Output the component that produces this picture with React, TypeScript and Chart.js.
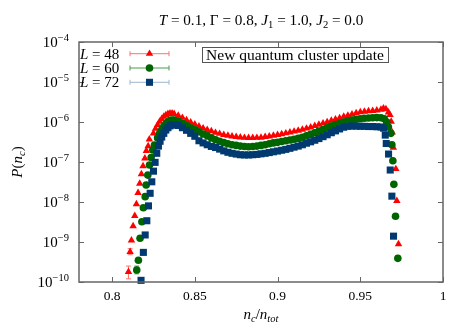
import React, { useEffect, useRef } from "react";
import { Chart, registerables } from "chart.js";
Chart.register(...registerables);

// ---- data ----
const xL48 = [0.8099, 0.8109, 0.8117, 0.8127, 0.8137, 0.8147, 0.8157, 0.8167, 0.8177, 0.8187, 0.8198, 0.8207, 0.8218, 0.8225,
  0.825, 0.82625, 0.8275, 0.82875, 0.83, 0.83125, 0.8325, 0.83375, 0.835, 0.83625, 0.8375, 0.84, 0.8425, 0.845, 0.8475, 0.85, 0.8525, 0.855, 0.8575, 0.86, 0.8625, 0.865, 0.8675,
  0.87, 0.8725, 0.875, 0.8775, 0.88, 0.8825, 0.885, 0.8875, 0.89, 0.8925, 0.895, 0.8975, 0.9, 0.9025, 0.905, 0.9075, 0.91, 0.9125,
  0.915, 0.9175, 0.92, 0.9225, 0.925, 0.9275, 0.93, 0.9325, 0.935, 0.9375, 0.94, 0.9425, 0.945, 0.9475, 0.95, 0.9525, 0.955, 0.9575,
  0.96, 0.9625, 0.964, 0.9655, 0.967, 0.968,
  0.9687, 0.9693, 0.97, 0.9715, 0.9721, 0.9731];
const yL48 = [1.8e-10, 5.7e-10, 1.1e-9, 2.5e-9, 4.5e-9, 8.9e-9, 1.7e-8, 2.9e-8, 5.0e-8, 7.9e-8, 1.24e-7, 1.9e-7, 2.5e-7, 3.7e-7,
  5.2e-7, 6.8e-7, 8.5e-7, 1.03e-6, 1.2e-6, 1.36e-6, 1.5e-6, 1.6e-6, 1.65e-6, 1.64e-6, 1.6e-6, 1.45e-6, 1.28e-6, 1.12e-6, 9.8e-7, 8.7e-7, 7.8e-7, 7.0e-7, 6.4e-7, 5.9e-7, 5.4e-7, 5.1e-7, 4.8e-7,
  4.6e-7, 4.4e-7, 4.25e-7, 4.15e-7, 4.05e-7, 4.0e-7, 4.0e-7, 4.05e-7, 4.1e-7, 4.25e-7, 4.4e-7, 4.6e-7, 4.8e-7, 5.0e-7, 5.25e-7, 5.5e-7, 5.8e-7, 6.1e-7,
  6.5e-7, 6.9e-7, 7.4e-7, 8.0e-7, 8.6e-7, 9.3e-7, 1.0e-6, 1.08e-6, 1.17e-6, 1.26e-6, 1.36e-6, 1.46e-6, 1.56e-6, 1.68e-6, 1.77e-6, 1.83e-6, 1.87e-6, 1.91e-6,
  1.96e-6, 2.05e-6, 2.2e-6, 2.1e-6, 1.75e-6, 1.5e-6,
  1.02e-6, 5.5e-7, 2.3e-7, 6.7e-8, 1.07e-8, 8.9e-10];

const xL60 = [0.8149, 0.8159, 0.8169, 0.818, 0.8189, 0.82, 0.8206, 0.8216, 0.8226, 0.8236, 0.8246, 0.8256,
  0.8275, 0.82875, 0.83, 0.83125, 0.8325, 0.83375, 0.835, 0.83625, 0.8375, 0.84, 0.8425, 0.845, 0.8475, 0.85, 0.8525, 0.855, 0.8575, 0.86, 0.8625, 0.865, 0.8675,
  0.87, 0.8725, 0.875, 0.8775, 0.88, 0.8825, 0.885, 0.8875, 0.89, 0.8925, 0.895, 0.8975, 0.9, 0.9025, 0.905, 0.9075, 0.91, 0.9125,
  0.915, 0.9175, 0.92, 0.9225, 0.925, 0.9275, 0.93, 0.9325, 0.935, 0.9375, 0.94, 0.9425, 0.945, 0.9475, 0.95, 0.9525, 0.955, 0.9575,
  0.96, 0.9625, 0.9645, 0.966, 0.967,
  0.9685, 0.9691, 0.9697, 0.9703, 0.9713, 0.9727];
const yL60 = [2.0e-10, 3.5e-10, 1.24e-9, 3.2e-9, 7.2e-9, 1.36e-8, 2.65e-8, 4.7e-8, 8.4e-8, 1.3e-7, 2.0e-7, 2.65e-7,
  4.0e-7, 5.2e-7, 6.5e-7, 7.8e-7, 9.0e-7, 1.01e-6, 1.1e-6, 1.12e-6, 1.12e-6, 1.05e-6, 9.3e-7, 8.2e-7, 7.2e-7, 6.4e-7, 5.7e-7, 5.0e-7, 4.5e-7, 4.0e-7, 3.6e-7, 3.3e-7, 3.05e-7,
  2.85e-7, 2.7e-7, 2.6e-7, 2.5e-7, 2.45e-7, 2.4e-7, 2.45e-7, 2.5e-7, 2.6e-7, 2.7e-7, 2.85e-7, 3.0e-7, 3.1e-7, 3.25e-7, 3.4e-7, 3.55e-7, 3.7e-7, 3.9e-7,
  4.15e-7, 4.5e-7, 4.9e-7, 5.4e-7, 5.9e-7, 6.5e-7, 7.2e-7, 7.9e-7, 8.6e-7, 9.3e-7, 1.0e-6, 1.07e-6, 1.12e-6, 1.17e-6, 1.21e-6, 1.24e-6, 1.26e-6, 1.28e-6,
  1.29e-6, 1.28e-6, 1.2e-6, 1.0e-6, 7.5e-7,
  5.2e-7, 2.7e-7, 1.07e-7, 2.76e-8, 4.4e-9, 3.9e-10];

const xL72 = [0.8175, 0.8189, 0.82, 0.821, 0.822, 0.823, 0.824, 0.825, 0.826, 0.827, 0.828, 0.829,
  0.83, 0.83125, 0.8325, 0.83375, 0.835, 0.83625, 0.8375, 0.84, 0.8425, 0.845, 0.8475, 0.85, 0.8525, 0.855, 0.8575, 0.86, 0.8625, 0.865, 0.8675,
  0.87, 0.8725, 0.875, 0.8775, 0.88, 0.8825, 0.885, 0.8875, 0.89, 0.8925, 0.895, 0.8975, 0.9, 0.9025, 0.905, 0.9075, 0.91, 0.9125,
  0.915, 0.9175, 0.92, 0.9225, 0.925, 0.9275, 0.93, 0.9325, 0.935, 0.9375, 0.94, 0.9425, 0.945, 0.9475, 0.95, 0.9525, 0.955, 0.9575,
  0.96, 0.9625, 0.9641, 0.9651,
  0.9657, 0.9671, 0.9681, 0.9691, 0.9701];
const yL72 = [1.1e-10, 5.5e-10, 1.5e-9, 3.4e-9, 8.0e-9, 1.65e-8, 3.2e-8, 5.9e-8, 9.8e-8, 1.65e-7, 2.5e-7, 3.3e-7,
  4.2e-7, 5.2e-7, 6.3e-7, 7.2e-7, 8.0e-7, 8.4e-7, 8.6e-7, 8.2e-7, 7.2e-7, 6.2e-7, 5.2e-7, 4.4e-7, 3.4e-7, 3.0e-7, 2.7e-7, 2.45e-7, 2.3e-7, 2.1e-7, 1.9e-7,
  1.75e-7, 1.65e-7, 1.58e-7, 1.52e-7, 1.5e-7, 1.5e-7, 1.52e-7, 1.55e-7, 1.6e-7, 1.65e-7, 1.72e-7, 1.8e-7, 1.88e-7, 1.97e-7, 2.07e-7, 2.2e-7, 2.35e-7, 2.5e-7,
  2.7e-7, 2.95e-7, 3.2e-7, 3.5e-7, 3.85e-7, 4.3e-7, 4.8e-7, 5.4e-7, 6.0e-7, 6.7e-7, 7.4e-7, 7.8e-7, 7.9e-7, 7.9e-7, 7.8e-7, 7.8e-7, 7.7e-7, 7.7e-7,
  7.6e-7, 7.5e-7, 7.0e-7, 4.7e-7,
  2.9e-7, 1.58e-7, 6.3e-8, 1.4e-8, 1.4e-9];

// error bars: [point index, low, high]
const errL48: number[][] = [[0, 1.2e-10, 2.5e-10], [1, 4.8e-10, 6.8e-10]];
const errL60: number[][] = [[0, 1.6e-10, 2.5e-10]];
const errL72: number[][] = [];

const seriesNames = ["48", "60", "72"];
const xTickValues = [0.8, 0.85, 0.9, 0.95, 1];
const xTickLabels = ["0.8", "0.85", "0.9", "0.95", "1"];
const yTickExponents = [-10, -9, -8, -7, -6, -5, -4];
const annotationText = "New quantum cluster update";

const COLORS = ["#ff0000", "#006400", "#003a70"];
const BAR_COLORS = ["#ff7070", "#4f9a4f", "#9fb6cf"];
const STYLES = ["triangle", "circle", "rect"];
const RADII = [4.3, 3.8, 5.0];
const SERIF = '"Liberation Serif", "DejaVu Serif", serif';

type Seg = { t: string; it?: boolean; sub?: boolean; sup?: boolean };

function segFont(s: Seg, size: number) {
  const sz = s.sub || s.sup ? size * 0.7 : size;
  return `${s.it ? "italic " : ""}${sz}px ${SERIF}`;
}
function richWidth(ctx: CanvasRenderingContext2D, segs: Seg[], size: number) {
  let w = 0;
  for (const s of segs) {
    ctx.font = segFont(s, size);
    w += ctx.measureText(s.t).width;
  }
  return w;
}
function drawRich(ctx: CanvasRenderingContext2D, segs: Seg[], x: number, y: number, size: number, align: "left" | "center" | "right") {
  const w = richWidth(ctx, segs, size);
  let cx = align === "left" ? x : align === "center" ? x - w / 2 : x - w;
  ctx.textAlign = "left";
  ctx.textBaseline = "alphabetic";
  for (const s of segs) {
    ctx.font = segFont(s, size);
    const dy = s.sub ? size * 0.22 : s.sup ? -size * 0.42 : 0;
    ctx.fillText(s.t, cx, y + dy);
    cx += ctx.measureText(s.t).width;
  }
}

function drawMarker(ctx: CanvasRenderingContext2D, style: string, r: number, x: number, y: number) {
  ctx.beginPath();
  if (style === "triangle") {
    let rad = 0;
    ctx.moveTo(x + Math.sin(rad) * r, y - Math.cos(rad) * r);
    rad += (2 * Math.PI) / 3;
    ctx.lineTo(x + Math.sin(rad) * r, y - Math.cos(rad) * r);
    rad += (2 * Math.PI) / 3;
    ctx.lineTo(x + Math.sin(rad) * r, y - Math.cos(rad) * r);
    ctx.closePath();
  } else if (style === "circle") {
    ctx.arc(x, y, r, 0, Math.PI * 2);
  } else {
    const s = r * Math.SQRT1_2;
    ctx.rect(x - s, y - s, 2 * s, 2 * s);
  }
  ctx.fill();
}

const decorPlugin = {
  id: "decor",
  beforeDatasetsDraw(chart: any) {
    const ctx: CanvasRenderingContext2D = chart.ctx;
    const xs = chart.scales.x;
    const ys = chart.scales.y;
    const sets = [[xL48, errL48], [xL60, errL60], [xL72, errL72]] as [number[], number[][]][];
    ctx.save();
    ctx.lineWidth = 1;
    sets.forEach(([xsArr, errs], k) => {
      ctx.strokeStyle = BAR_COLORS[k];
      for (const e of errs) {
        const px = xs.getPixelForValue(xsArr[e[0]]);
        const p1 = ys.getPixelForValue(e[1]);
        const p2 = ys.getPixelForValue(e[2]);
        ctx.beginPath();
        ctx.moveTo(px, p1); ctx.lineTo(px, p2);
        ctx.moveTo(px - 2.5, p1); ctx.lineTo(px + 2.5, p1);
        ctx.moveTo(px - 2.5, p2); ctx.lineTo(px + 2.5, p2);
        ctx.stroke();
      }
    });
    ctx.restore();
  },
  afterDatasetsDraw(chart: any) {
    const ctx: CanvasRenderingContext2D = chart.ctx;
    const a = chart.chartArea;
    const xs = chart.scales.x;
    const ys = chart.scales.y;
    ctx.save();
    // frame
    ctx.strokeStyle = "#666666";
    ctx.lineWidth = 1.5;
    ctx.strokeRect(a.left, a.top, a.right - a.left, a.bottom - a.top);
    // ticks
    ctx.lineWidth = 1;
    ctx.beginPath();
    xTickValues.forEach((v) => {
      const px = Math.round(xs.getPixelForValue(v)) + 0.5;
      ctx.moveTo(px, a.bottom); ctx.lineTo(px, a.bottom - 5);
      ctx.moveTo(px, a.top); ctx.lineTo(px, a.top + 5);
    });
    yTickExponents.forEach((e) => {
      const py = Math.round(ys.getPixelForValue(Math.pow(10, e))) + 0.5;
      ctx.moveTo(a.left, py); ctx.lineTo(a.left + 5, py);
      ctx.moveTo(a.right, py); ctx.lineTo(a.right - 5, py);
    });
    ctx.stroke();

    ctx.fillStyle = "#000000";
    // x tick labels
    xTickValues.forEach((v, i) => {
      drawRich(ctx, [{ t: xTickLabels[i] }], xs.getPixelForValue(v), a.bottom + 18, 13.5, "center");
    });
    // y tick labels
    yTickExponents.forEach((e) => {
      const py = ys.getPixelForValue(Math.pow(10, e));
      drawRich(ctx, [{ t: "10" }, { t: "\u2212" + Math.abs(e), sup: true }], a.left - 10, py + 5, 15, "right");
    });
    // axis titles
    drawRich(ctx, [{ t: "n", it: true }, { t: "c", it: true, sub: true }, { t: "/" }, { t: "n", it: true }, { t: "tot", it: true, sub: true }],
      (a.left + a.right) / 2, a.bottom + 37, 15, "center");
    ctx.save();
    ctx.translate(22, (a.top + a.bottom) / 2);
    ctx.rotate(-Math.PI / 2);
    drawRich(ctx, [{ t: "P", it: true }, { t: "(" }, { t: "n", it: true }, { t: "c", it: true, sub: true }, { t: ")" }], 0, 0, 15, "center");
    ctx.restore();
    // title
    drawRich(ctx, [
      { t: "T", it: true }, { t: " = 0.1, \u0393 = 0.8, " },
      { t: "J", it: true }, { t: "1", sub: true }, { t: " = 1.0, " },
      { t: "J", it: true }, { t: "2", sub: true }, { t: " = 0.0" },
    ], (a.left + a.right) / 2, 25, 15.2, "center");

    // legend
    seriesNames.forEach((name, k) => {
      const yb = 58.5 + k * 14.3;
      drawRich(ctx, [{ t: "L", it: true }, { t: " = " + name }], 80, yb, 15, "left");
      const yc = yb - 4.8;
      ctx.strokeStyle = BAR_COLORS[k];
      ctx.lineWidth = 1;
      ctx.beginPath();
      ctx.moveTo(130, yc); ctx.lineTo(169, yc);
      ctx.moveTo(130, yc - 2.5); ctx.lineTo(130, yc + 2.5);
      ctx.moveTo(169, yc - 2.5); ctx.lineTo(169, yc + 2.5);
      ctx.stroke();
      ctx.fillStyle = COLORS[k];
      drawMarker(ctx, STYLES[k], RADII[k], 149.5, yc);
      ctx.fillStyle = "#000000";
    });

    // annotation box
    const annSize = 15.5;
    ctx.font = `${annSize}px ${SERIF}`;
    const tw = ctx.measureText(annotationText).width;
    const cx = 295;
    ctx.strokeStyle = "#555555";
    ctx.lineWidth = 1;
    ctx.strokeRect(Math.round(cx - tw / 2 - 4) + 0.5, 47.5, Math.round(tw + 8), 15);
    drawRich(ctx, [{ t: annotationText }], cx, 59.5, annSize, "center");
    ctx.restore();
  },
};

function makeData(xs: number[], ys: number[]) {
  return xs.map((x, i) => ({ x, y: ys[i] }));
}

export default function App() {
  const ref = useRef<HTMLCanvasElement | null>(null);
  useEffect(() => {
    if (!ref.current) return;
    const series = [[xL48, yL48], [xL60, yL60], [xL72, yL72]];
    const chart = new Chart(ref.current, {
      type: "scatter",
      data: {
        datasets: series.map(([xs, ys], k) => ({
          label: "L = " + seriesNames[k],
          data: makeData(xs, ys),
          pointStyle: STYLES[k] as any,
          pointRadius: RADII[k],
          pointBackgroundColor: COLORS[k],
          pointBorderColor: COLORS[k],
          pointBorderWidth: 0,
          showLine: false,
          order: 3 - k,
          clip: 8,
        })),
      },
      options: {
        responsive: false,
        animation: false,
        devicePixelRatio: 1,
        layout: { padding: { left: 79, right: 26, top: 42, bottom: 46 } },
        plugins: { legend: { display: false }, tooltip: { enabled: false }, title: { display: false } },
        scales: {
          x: { type: "linear", min: 0.78, max: 1.0, display: false },
          y: { type: "logarithmic", min: 1e-10, max: 1e-4, display: false },
        },
      },
      plugins: [decorPlugin],
    });
    return () => chart.destroy();
  }, []);
  return (
    <div style={{ position: "fixed", left: 0, top: 0, width: 469, height: 328, background: "#ffffff" }}>
      <canvas ref={ref} width={469} height={328} style={{ width: 469, height: 328, display: "block" }} />
    </div>
  );
}
